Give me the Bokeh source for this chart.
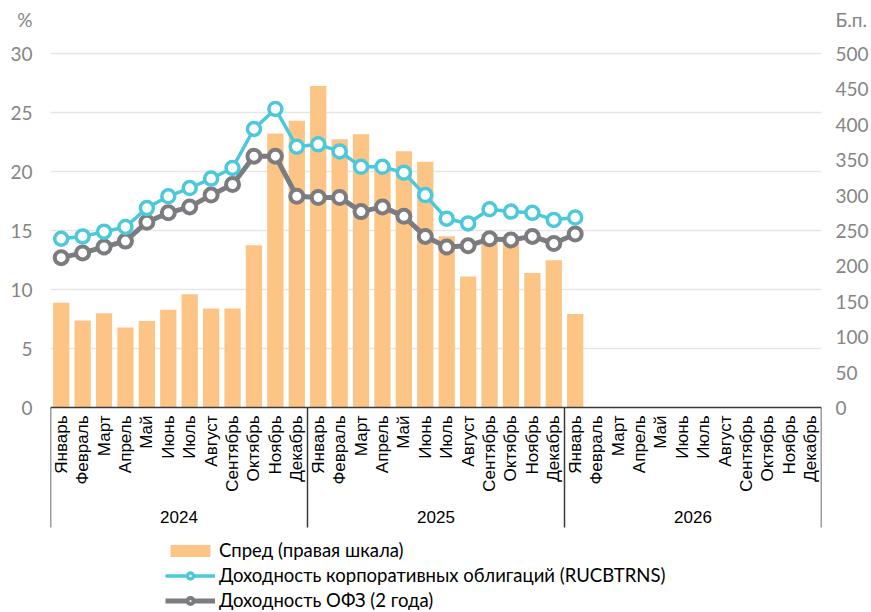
import math
from bokeh.plotting import figure
from bokeh.models import (FactorRange, Range1d, LinearAxis, FixedTicker, Span,
                          Legend, LegendItem, ColumnDataSource)
from bokeh.embed import file_html
from bokeh.resources import INLINE
from bokeh.core.properties import value

# ---------------- data ----------------
years = ["2024", "2025", "2026"]
months = ["Январь", "Февраль", "Март", "Апрель", "Май", "Июнь", "Июль",
          "Август", "Сентябрь", "Октябрь", "Ноябрь", "Декабрь"]

# spread, basis points (right scale), Jan 2024 .. Jan 2026
spread_bp = [148, 123, 133, 113, 122, 138, 160, 140, 140, 229, 387, 405,
             454, 379, 386, 340, 362, 347, 242, 185, 245, 240, 190, 208,
             132]
# corporate bond yield (RUCBTRNS), %
corp_yield = [14.3, 14.5, 14.9, 15.3, 16.9, 17.9, 18.6, 19.4, 20.3, 23.6, 25.3, 22.1,
              22.3, 21.7, 20.4, 20.4, 19.9, 18.0, 16.0, 15.6, 16.8, 16.6, 16.5, 15.9,
              16.1]
# OFZ 2y yield, %
ofz_yield = [12.7, 13.1, 13.6, 14.1, 15.7, 16.5, 17.0, 18.0, 18.9, 21.3, 21.3, 17.9,
             17.8, 17.8, 16.6, 17.0, 16.2, 14.5, 13.6, 13.7, 14.3, 14.2, 14.5, 13.9,
             14.7]

left_ticks = [0, 5, 10, 15, 20, 25, 30]
right_ticks = [0, 50, 100, 150, 200, 250, 300, 350, 400, 450, 500]
left_unit = "%"
right_unit = "Б.п."

series_labels = ["Спред (правая шкала)",
                 "Доходность корпоративных облигаций (RUCBTRNS)",
                 "Доходность ОФЗ (2 года)"]

# ---------------- styling / layout ----------------
BAR = "#FDC585"
CYAN = "#4CC8DC"
GREY = "#7B7B80"
TICK_GREY = "#858585"
AXIS = "#3a3a3a"

W, H = 871, 612
FRAME_L, FRAME_R = 50, 822           # frame edges (px)
FRAME_T = 5                          # top of frame (px)
Y30_PX, Y0_PX = 53, 407              # pixel rows of 30 % and 0 %
PPU = (Y0_PX - Y30_PX) / left_ticks[-1]

Y_TOP = left_ticks[-1] + (Y30_PX - FRAME_T) / PPU
Y_BOTTOM = -(H - Y0_PX) / PPU
R_SCALE = right_ticks[-1] / left_ticks[-1]

UNIT_Y = 32.9                        # level of the unit captions, in % units

factors = [(y, m) for y in years for m in months]
n = len(spread_bp)

p = figure(width=W, height=H,
           x_range=FactorRange(factors=factors, group_padding=0, factor_padding=0,
                               subgroup_padding=0, range_padding=0),
           y_range=Range1d(Y_BOTTOM, Y_TOP),
           x_axis_location=None,
           output_backend="svg", toolbar_location=None,
           min_border_left=FRAME_L, min_border_right=W - FRAME_R,
           min_border_top=FRAME_T, min_border_bottom=0)
p.outline_line_color = None
p.background_fill_color = "white"
p.border_fill_color = "white"
p.extra_y_ranges = {"bp": Range1d(Y_BOTTOM * R_SCALE, Y_TOP * R_SCALE)}

# grid
p.xgrid.visible = False
p.ygrid.ticker = FixedTicker(ticks=left_ticks[1:])
p.ygrid.grid_line_color = "#e6e6e6"
p.ygrid.grid_line_width = 1.5

# left axis (ticks + unit caption)
ya = p.yaxis[0]
ya.ticker = FixedTicker(ticks=left_ticks + [UNIT_Y])
ya.major_label_overrides = {UNIT_Y: left_unit}
ya.axis_line_color = None
ya.major_tick_line_color = None
ya.minor_tick_line_color = None
ya.major_tick_out = 0
ya.major_tick_in = 0
ya.minor_tick_out = 0
ya.major_label_standoff = 18
ya.major_label_text_font = "Lato"
ya.major_label_text_font_size = "19px"
ya.major_label_text_color = TICK_GREY

# right axis (ticks + unit caption)
UNIT_R = UNIT_Y * R_SCALE
ra = LinearAxis(y_range_name="bp", ticker=FixedTicker(ticks=right_ticks + [UNIT_R]))
ra.major_label_overrides = {UNIT_R: right_unit}
ra.axis_line_color = None
ra.major_tick_line_color = None
ra.minor_tick_line_color = None
ra.major_tick_out = 0
ra.major_tick_in = 0
ra.minor_tick_out = 0
ra.major_label_standoff = 14
ra.major_label_text_font = "Lato"
ra.major_label_text_font_size = "19px"
ra.major_label_text_color = TICK_GREY
p.add_layout(ra, "right")

# bars
src = ColumnDataSource(dict(x=factors[:n], spread=spread_bp, corp=corp_yield, ofz=ofz_yield))
bars = p.vbar(x="x", top="spread", width=0.76, source=src, y_range_name="bp",
              fill_color=BAR, line_color=None)

# lines
gl = p.line(x="x", y="ofz", source=src, line_color=GREY, line_width=5)
gs = p.scatter(x="x", y="ofz", source=src, marker="circle", size=13,
               fill_color="white", line_color=GREY, line_width=4)
cl = p.line(x="x", y="corp", source=src, line_color=CYAN, line_width=3.5)
cs = p.scatter(x="x", y="corp", source=src, marker="circle", size=13,
               fill_color="white", line_color=CYAN, line_width=3.5)

# x axis line
p.add_layout(Span(location=0, dimension="width", line_color=AXIS, line_width=1.5))

# category separators
SEP_BOTTOM = -120 / PPU
bounds = [i * len(months) for i in range(len(years) + 1)]
p.segment(x0=bounds, x1=bounds, y0=[0] * len(bounds), y1=[SEP_BOTTOM] * len(bounds),
          line_color=AXIS, line_width=1.5)

# month labels
msrc = ColumnDataSource(dict(x=factors, t=[m for _, m in factors],
                             y=[-8 / PPU] * len(factors)))
p.text(x="x", y="y", text="t", source=msrc, angle=math.pi / 2,
       text_align="right", text_baseline="middle",
       text_font=value("Liberation Sans"), text_font_size="17px", text_color="black")

# year labels
ysrc = ColumnDataSource(dict(x=years, t=years, y=[-109 / PPU] * len(years)))
p.text(x="x", y="y", text="t", source=ysrc, text_align="center", text_baseline="middle",
       text_font=value("Liberation Sans"), text_font_size="17px", text_color="black")

legend = Legend(items=[LegendItem(label=series_labels[0], renderers=[bars]),
                       LegendItem(label=series_labels[1], renderers=[cl, cs]),
                       LegendItem(label=series_labels[2], renderers=[gl, gs])],
                location=(115, 1), padding=0, margin=0,
                border_line_color=None, background_fill_alpha=0,
                glyph_width=50, glyph_height=15, label_standoff=4, spacing=3,
                label_height=20, label_text_font="Lato", label_text_font_size="18.5px",
                label_text_color="black")
p.add_layout(legend)

open("out.html", "w").write(file_html(p, INLINE))
